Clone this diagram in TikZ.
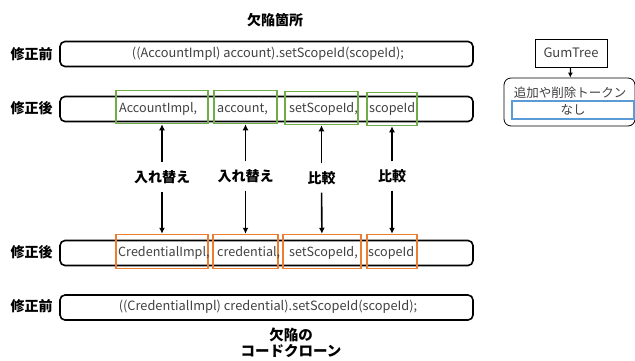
\documentclass[tikz,border=0pt]{standalone}
\usepackage{fontspec}
\setmainfont{Noto Sans CJK JP}
\usetikzlibrary{arrows.meta}
\definecolor{cgreen}{HTML}{70AD47}
\definecolor{corange}{HTML}{ED7D31}
\definecolor{cblue}{HTML}{5B9BD5}
\definecolor{ctext}{HTML}{404040}
\begin{document}
\begin{tikzpicture}[x=1pt,y=-1pt,
  bar/.style={draw=black, line width=1.6pt, rounded corners=5pt, minimum width=413pt, minimum height=25pt, inner sep=0pt},
  side/.style={font=\fontsize{14}{16}\selectfont\bfseries, inner sep=0pt},
  code/.style={font=\fontsize{12.6}{14}\selectfont, text=ctext, inner sep=0pt},
  line/.style={font=\fontsize{12.8}{14}\selectfont, text=ctext, inner sep=0pt},
  gbox/.style={draw=cgreen, line width=1.5pt, minimum height=33pt, inner sep=0pt},
  obox/.style={draw=corange, line width=1.5pt, minimum height=34pt, inner sep=0pt},
  lab/.style={font=\fontsize{14}{16}\selectfont\bfseries, minimum height=29pt, inner sep=0pt},
  arr/.style={-{Latex[length=6pt,width=6pt]}, line width=1.6pt},
]
\useasboundingbox (0,0) rectangle (635,360);
% title
\node[side] (title) at (275,20) {欠陥箇所};
% bars
\node[bar] (b1) at (266.5,54) {};
\node[line] (t1) at (268,54) {((AccountImpl) account).setScopeId(scopeId);};
\node[side] (l1) at (31.5,54) {修正前};
\node[bar] (b2) at (266.5,109) {};
\node[side] (l2) at (31.5,108) {修正後};
\node[bar] (b3) at (266.5,253) {};
\node[side] (l3) at (31.5,252) {修正後};
\node[bar] (b4) at (266.5,307.5) {};
\node[line] (t4) at (268,307) {((CredentialImpl) credential).setScopeId(scopeId);};
\node[side] (l4) at (31.5,306) {修正前};
% green boxes
\node[gbox, minimum width=92pt] (g1) at (162,107) {};
\node[gbox, minimum width=63pt] (g2) at (245.5,107) {};
\node[gbox, minimum width=73pt] (g3) at (321.5,108) {};
\node[gbox, minimum width=50pt] (g4) at (392,109) {};
\node[code, anchor=west] (gt1) at (119,109) {AccountImpl,};
\node[code, anchor=west] (gt2) at (217,109) {account,};
\node[code, anchor=west] (gt3) at (289,109) {setScopeId,};
\node[code, anchor=west] (gt4) at (369,109) {scopeId};
% orange boxes
\node[obox, minimum width=92pt] (o1) at (162,251.5) {};
\node[obox, minimum width=65pt] (o2) at (245.5,251.5) {};
\node[obox, minimum width=78pt] (o3) at (322,251.5) {};
\node[obox, minimum width=50pt] (o4) at (392,251.5) {};
\node[code, anchor=west] (ot1) at (118,253) {CredentialImpl,};
\node[code, anchor=west] (ot2) at (217,253) {credential,};
\node[code, anchor=west] (ot3) at (289,253) {setScopeId,};
\node[code, anchor=west] (ot4) at (368,253) {scopeId};
% labels and arrows
\node[lab] (m1) at (162,177) {入れ替え};
\node[lab] (m2) at (245.5,176) {入れ替え};
\node[lab] (m3) at (321.5,178) {比較};
\node[lab] (m4) at (392,176) {比較};
\foreach \i in {1,2,3,4}{
  \draw[arr] (m\i) -- (g\i);
  \draw[arr] (m\i) -- (o\i);
}
% bottom caption
\node[side, align=center, font=\fontsize{14.5}{16.5}\selectfont\bfseries] (cap) at (291,343) {欠陥の\\コードクローン};
% GumTree
\node[draw=black, line width=0.8pt, minimum width=72pt, minimum height=28pt, inner sep=0pt, font=\fontsize{13}{14}\selectfont, text=ctext] (gum) at (571,53) {GumTree};
\node[draw=black, line width=0.8pt, rounded corners=7pt, minimum width=131pt, minimum height=48pt, inner sep=0pt] (res) at (569.5,102) {};
\node[font=\fontsize{12.5}{14}\selectfont, text=ctext, inner sep=0pt] (restext) at (570,93) {追加や削除トークン};
\node[draw=cblue, line width=1.5pt, minimum width=122pt, minimum height=18pt, inner sep=0pt, font=\fontsize{12.5}{14}\selectfont, text=ctext] (none) at (573,110) {なし};
\draw[arr, line width=1.2pt, -{Latex[length=5pt,width=5pt]}] (gum) -- (res);
\end{tikzpicture}
\end{document}
